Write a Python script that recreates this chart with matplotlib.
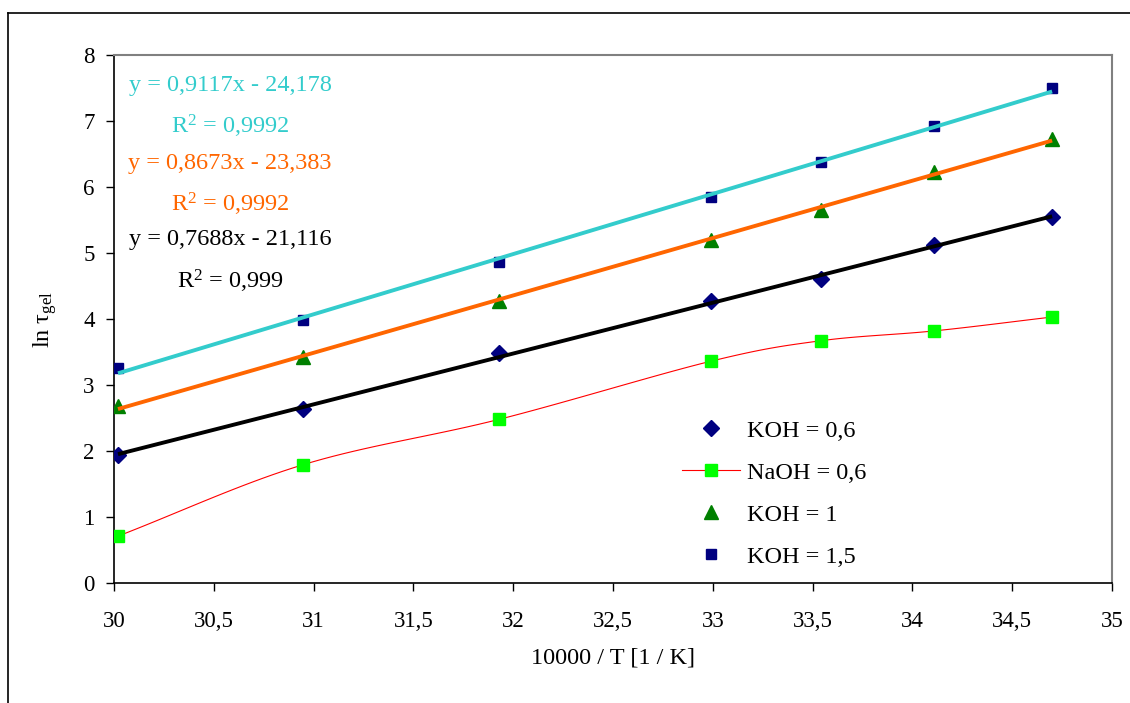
import numpy as np
import matplotlib
matplotlib.use("Agg")
import matplotlib.pyplot as plt
from matplotlib.ticker import FuncFormatter, MultipleLocator
from matplotlib.lines import Line2D

plt.rcParams['font.family'] = ['Liberation Serif', 'DejaVu Serif']
plt.rcParams['mathtext.fontset'] = 'custom'
plt.rcParams['mathtext.rm'] = 'Liberation Serif'
plt.rcParams['mathtext.it'] = 'Liberation Serif:italic'

# Data: 10000/T and ln(gel time)
inv_t = [30.02, 30.945, 31.93, 32.99, 33.54, 34.11, 34.70]
koh_06 = [1.94, 2.64, 3.48, 4.27, 4.60, 5.12, 5.55]
naoh_06 = [0.71, 1.79, 2.48, 3.36, 3.67, 3.82, 4.03]
koh_1 = [2.68, 3.42, 4.27, 5.20, 5.65, 6.23, 6.73]
koh_15 = [3.26, 3.98, 4.86, 5.85, 6.38, 6.92, 7.50]

fit_labels = [
    ("y = 0,9117x - 24,178", "R$^2$ = 0,9992", '#33CCCC'),
    ("y = 0,8673x - 23,383", "R$^2$ = 0,9992", '#FF6600'),
    ("y = 0,7688x - 21,116", "R$^2$ = 0,999", 'black'),
]


def smooth(x, y, n=20):
    # Catmull-Rom curve through the points (Excel "smoothed line" look)
    x = np.asarray(x, float)
    y = np.asarray(y, float)
    px = np.concatenate([[2 * x[0] - x[1]], x, [2 * x[-1] - x[-2]]])
    py = np.concatenate([[2 * y[0] - y[1]], y, [2 * y[-1] - y[-2]]])
    t = np.linspace(0, 1, n)
    xs, ys = [], []
    for i in range(1, len(px) - 2):
        for p, out in ((px, xs), (py, ys)):
            p0, p1, p2, p3 = p[i - 1], p[i], p[i + 1], p[i + 2]
            out.extend(0.5 * (2 * p1 + (-p0 + p2) * t
                              + (2 * p0 - 5 * p1 + 4 * p2 - p3) * t ** 2
                              + (-p0 + 3 * p1 - 3 * p2 + p3) * t ** 3))
    return xs, ys


fig = plt.figure(figsize=(11.3, 7.03), dpi=100)
ax = fig.add_axes([114 / 1130, 1 - 583 / 703, (1112 - 114) / 1130, (583 - 55) / 703])

fs = 16.5
fs_txt = 17.5

# data series
ax.plot(inv_t, koh_06, 'D', color='#000080', ms=8, zorder=3)
sx, sy = smooth(inv_t, naoh_06)
ax.plot(sx, sy, '-', color='red', lw=0.8, zorder=2)
ax.plot(inv_t, naoh_06, 's', color='#00FF00', ms=8.5, zorder=3)
ax.plot(inv_t, koh_1, '^', color='#008000', ms=10, zorder=3)
ax.plot(inv_t, koh_15, 's', color='#000080', ms=6.7, zorder=3)

# linear trendlines
xx = np.array([inv_t[0], inv_t[-1]])
for ys, c in ((koh_15, '#33CCCC'), (koh_1, '#FF6600'), (koh_06, 'black')):
    k, b = np.polyfit(inv_t, ys, 1)
    ax.plot(xx, k * xx + b, '-', color=c, lw=2.8, zorder=4, solid_capstyle='butt')

# trendline equations
eq_y = [85, 163, 240]
for (eq, r2, c), yp in zip(fit_labels, eq_y):
    fig.text(230 / 1130, 1 - yp / 703, eq, color=c, fontsize=fs_txt, ha='center', va='center')
    fig.text(230 / 1130, 1 - (yp + 41) / 703, r2, color=c, fontsize=fs_txt, ha='center', va='center')

ax.set_xlim(30, 35)
ax.set_ylim(0, 8)
ax.xaxis.set_major_locator(MultipleLocator(0.5))
ax.yaxis.set_major_locator(MultipleLocator(1))
fmt = FuncFormatter(lambda v, p: ('%g' % v).replace('.', ','))
ax.xaxis.set_major_formatter(fmt)
ax.yaxis.set_major_formatter(fmt)
ax.tick_params(axis='both', direction='out', length=6, width=1, labelsize=fs)
ax.tick_params(axis='x', pad=14)
ax.tick_params(axis='y', pad=8)
for s in ('top', 'right'):
    ax.spines[s].set_color('#808080')
    ax.spines[s].set_linewidth(1.5)
for s in ('left', 'bottom'):
    ax.spines[s].set_color('black')
    ax.spines[s].set_linewidth(1.2)

ax.set_xlabel('10000 / T [1 / K]', fontsize=fs_txt, labelpad=11)
ax.set_ylabel(r'ln τ$_{\mathrm{gel}}$', fontsize=fs_txt, labelpad=17)

handles = [
    Line2D([], [], ls='none', marker='D', color='#000080', ms=8),
    Line2D([], [], ls='-', lw=0.8, color='red', marker='s', ms=8.5,
           markerfacecolor='#00FF00', markeredgecolor='#00FF00'),
    Line2D([], [], ls='none', marker='^', color='#008000', ms=10),
    Line2D([], [], ls='none', marker='s', color='#000080', ms=6.7),
]
labels = ['KOH = 0,6', 'NaOH = 0,6', 'KOH = 1', 'KOH = 1,5']
fig.legend(handles, labels, loc='upper left', bbox_to_anchor=(672 / 1130, 1 - 410 / 703),
           frameon=False, fontsize=fs_txt, handlelength=2.4, handletextpad=0.3,
           labelspacing=0.82, borderaxespad=0)

# outer chart border
fig.add_artist(Line2D([8 / 1130, 1], [1 - 13 / 703, 1 - 13 / 703], color='black', lw=1.2,
                      transform=fig.transFigure))
fig.add_artist(Line2D([8 / 1130, 8 / 1130], [0, 1 - 13 / 703], color='black', lw=1.2,
                      transform=fig.transFigure))

fig.savefig('out.png', dpi=100)
